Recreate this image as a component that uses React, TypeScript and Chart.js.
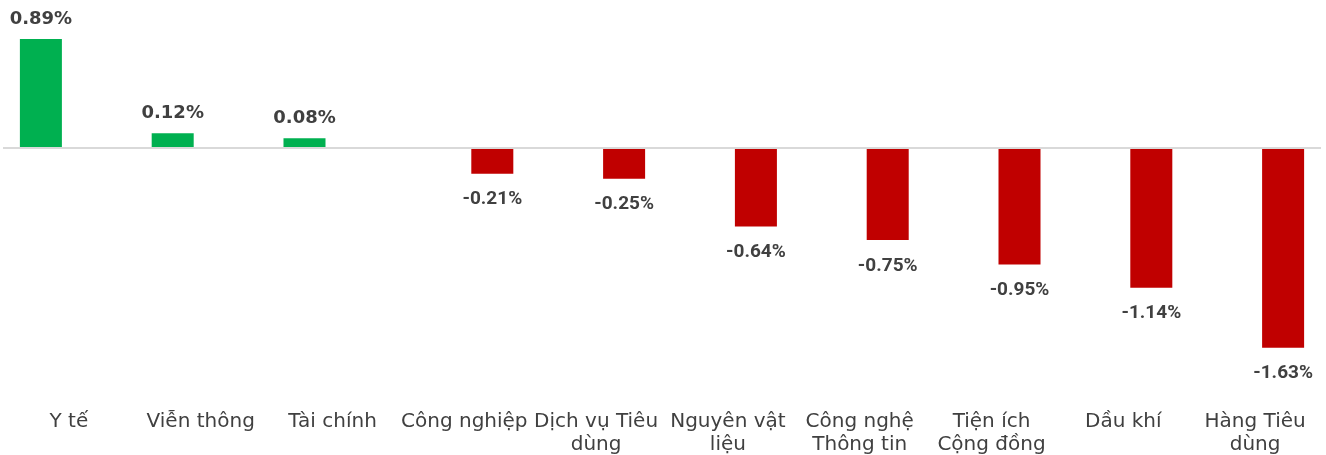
import React, { useEffect, useRef } from "react";
import { Chart, registerables } from "chart.js";

Chart.register(...registerables);

const categories: (string | string[])[] = [
  "Y tế",
  "Viễn thông",
  "Tài chính",
  "Công nghiệp",
  ["Dịch vụ Tiêu", "dùng"],
  ["Nguyên vật", "liệu"],
  ["Công nghệ", "Thông tin"],
  ["Tiện ích", "Cộng đồng"],
  "Dầu khí",
  ["Hàng Tiêu", "dùng"],
];

const gainValues: (number | null)[] = [0.89, 0.12, 0.08, null, null, null, null, null, null, null];
const lossValues: (number | null)[] = [null, null, null, -0.21, -0.25, -0.64, -0.75, -0.95, -1.14, -1.63];

const GREEN = "#00B050";
const RED = "#C00000";
const LABEL_COLOR = "#404040";

const valueLabelPlugin = {
  id: "valueLabels",
  afterDatasetsDraw(chart: any) {
    const ctx = chart.ctx;
    ctx.save();
    ctx.textAlign = "center";
    ctx.textBaseline = "middle";
    chart.data.datasets.forEach((ds: any, di: number) => {
      const meta = chart.getDatasetMeta(di);
      meta.data.forEach((bar: any, i: number) => {
        const v = ds.data[i];
        if (v === null || v === undefined) return;
        const pos = v >= 0;
        ctx.font = pos
          ? "bold 18px 'DejaVu Sans', sans-serif"
          : "bold 19px Roboto, sans-serif";
        ctx.fillStyle = LABEL_COLOR;
        const y = pos ? bar.y - 20 : bar.y + 26;
        ctx.fillText(v.toFixed(2) + "%", bar.x, y);
      });
    });
    ctx.restore();
  },
};

export default function App() {
  const canvasRef = useRef<HTMLCanvasElement | null>(null);

  useEffect(() => {
    document.body.style.margin = "0";
    const canvas = canvasRef.current;
    if (!canvas) return;
    const chart = new Chart(canvas, {
      type: "bar",
      data: {
        labels: categories,
        datasets: [
          {
            data: gainValues,
            backgroundColor: GREEN,
            categoryPercentage: 0.85,
            barPercentage: 0.75,
          },
          {
            data: lossValues,
            backgroundColor: RED,
            categoryPercentage: 0.85,
            barPercentage: 0.75,
          },
        ],
      },
      options: {
        animation: false,
        responsive: false,
        maintainAspectRatio: false,
        layout: { padding: { top: 25.5, left: 3, right: 5, bottom: 0 } },
        plugins: {
          legend: { display: false },
          tooltip: { enabled: false },
        },
        scales: {
          x: {
            grid: { display: false, drawTicks: false },
            border: { display: false },
            afterFit: (scale: any) => {
              scale.height = 62;
            },
            ticks: {
              autoSkip: false,
              maxRotation: 0,
              minRotation: 0,
              padding: 17,
              color: LABEL_COLOR,
              font: { family: "'DejaVu Sans', sans-serif", size: 20, lineHeight: 1.15 },
            },
          },
          y: {
            min: -2,
            max: 1,
            ticks: { display: false, stepSize: 1 },
            border: { display: false },
            grid: {
              drawTicks: false,
              lineWidth: 2,
              color: (c: any) => (c.tick && c.tick.value === 0 ? "#D9D9D9" : "rgba(0,0,0,0)"),
            },
          },
        },
      },
      plugins: [valueLabelPlugin],
    });
    return () => chart.destroy();
  }, []);

  return (
    <div style={{ position: "absolute", left: 0, top: 0, width: 1326, height: 455 }}>
      <canvas ref={canvasRef} width={1326} height={455} style={{ display: "block" }} />
    </div>
  );
}
